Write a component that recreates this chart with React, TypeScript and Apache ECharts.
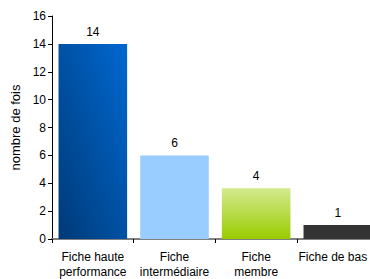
import React, { useEffect, useRef } from "react";
import * as echarts from "echarts";

const categories = ["Fiche haute\nperformance", "Fiche\nintermédiaire", "Fiche\nmembre", "Fiche de bas"];
const values = [14, 6, 3.65, 1];
const valueLabels = ["14", "6", "4", "1"];
const yTicks = { min: 0, max: 16, interval: 2 };

const colors: any[] = [
  new echarts.graphic.LinearGradient(0, 1, 1, 0, [
    { offset: 0, color: "#003a78" },
    { offset: 1, color: "#0068d0" },
  ]),
  "#99ccff",
  new echarts.graphic.LinearGradient(0, 0, 0, 1, [
    { offset: 0, color: "#d4ea8e" },
    { offset: 1, color: "#99cc00" },
  ]),
  "#333333",
];

export default function App() {
  const ref = useRef<HTMLDivElement>(null);
  useEffect(() => {
    const chart = echarts.init(ref.current!, undefined, { renderer: "svg" });
    const font = "'Liberation Sans', Arial, sans-serif";
    const catData = categories.map((c, i) =>
      i === categories.length - 1 ? { value: c, textStyle: { padding: [0, 10, 0, 0] } } : c
    );
    chart.setOption({
      animation: false,
      textStyle: { fontFamily: font },
      grid: { left: 52, right: 0, top: 16, bottom: 38 },
      xAxis: {
        type: "category",
        data: catData,
        axisLine: { lineStyle: { color: "#808080", width: 2 } },
        axisTick: { show: true, length: 4, lineStyle: { color: "#000" } },
        axisLabel: { color: "#000", fontSize: 12, fontFamily: font, lineHeight: 15, margin: 10, interval: 0 },
      },
      yAxis: {
        type: "value",
        min: yTicks.min,
        max: yTicks.max,
        interval: yTicks.interval,
        name: "nombre de fois",
        nameLocation: "middle",
        nameGap: 28,
        nameRotate: 90,
        nameTextStyle: { color: "#000", fontSize: 13, fontFamily: font },
        axisLine: { show: true, lineStyle: { color: "#000", width: 1 } },
        axisTick: { show: true, length: 4, lineStyle: { color: "#000" } },
        axisLabel: { color: "#000", fontSize: 12, fontFamily: font, margin: 6 },
        splitLine: { show: false },
      },
      series: [
        {
          type: "bar",
          barCategoryGap: "16%",
          data: values.map((v, i) => ({ value: v, itemStyle: { color: colors[i] } })),
          label: {
            show: true,
            position: "top",
            distance: 6,
            color: "#000",
            fontSize: 12,
            fontFamily: font,
            formatter: (p: any) => valueLabels[p.dataIndex],
          },
        },
      ],
    });
    return () => chart.dispose();
  }, []);
  return <div ref={ref} style={{ position: "absolute", left: 0, top: 0, width: 380, height: 279 }} />;
}
